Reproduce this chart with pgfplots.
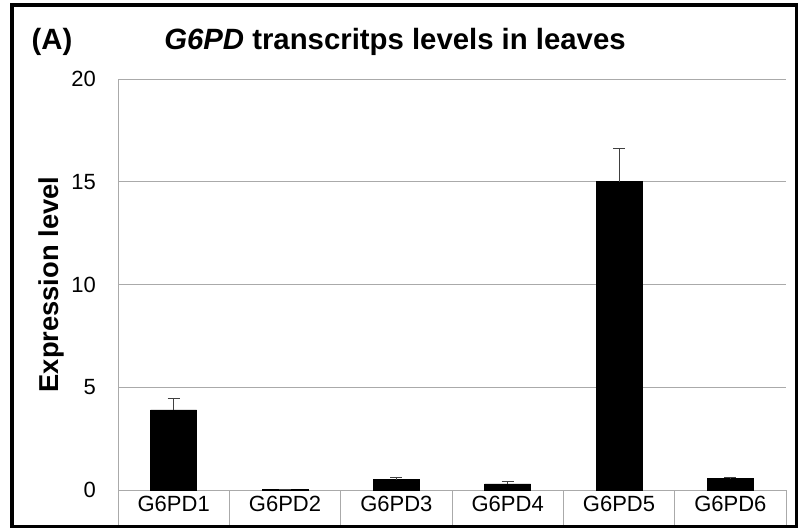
\documentclass[border=0pt]{standalone}
\usepackage{pgfplots}
\pgfplotsset{compat=1.18}
\usepackage{fontspec}
\setmainfont{Liberation Sans}
\definecolor{gridgray}{RGB}{170,170,170}
\begin{document}
\begin{tikzpicture}
\path[use as bounding box] (0,0) rectangle (599.25pt,396pt);
\begin{axis}[
  at={(88.5pt,28.5pt)}, anchor=south west,
  scale only axis, width=501pt, height=308.25pt,
  xmin=0.5, xmax=6.5, ymin=0, ymax=20,
  xtick={1,2,3,4,5,6},
  xticklabels={G6PD1,G6PD2,G6PD3,G6PD4,G6PD5,G6PD6},
  ytick={0,5,10,15,20},
  major tick length=0pt,
  extra x ticks={0.5,1.5,2.5,3.5,4.5,5.5,6.5},
  extra x tick labels={},
  extra x tick style={major tick length=27pt, tick align=outside, grid=none, tick style={gridgray, line width=0.6pt}},
  axis x line=bottom, axis y line=left,
  axis line style={gridgray, line width=0.7pt, -},
  ymajorgrids, grid style={gridgray, line width=0.7pt},
  /pgf/number format/assume math mode=true,
  tick label style={font=\fontsize{16.5}{18}\selectfont},
  yticklabel style={xshift=-13pt},
  xticklabel style={yshift=-1pt},
  ylabel={\textbf{Expression level}},
  ylabel style={font=\fontsize{20.5}{22}\selectfont, at={(axis description cs:-0.099,0.5)}, anchor=center, rotate=0},
  clip=false,
]
\addplot[ybar, bar width=34.5pt, fill=black, draw=black,
  error bars/.cd, y dir=plus, y explicit, error bar style={black!75, line width=0.7pt}, error mark options={rotate=90, mark size=4.5pt, black!75, line width=0.7pt}]
coordinates {
  (1,3.9) +- (0,0.55)
  (2,0.02) +- (0,0.02)
  (3,0.5) +- (0,0.1)
  (4,0.3) +- (0,0.12)
  (5,15.0) +- (0,1.6)
  (6,0.55) +- (0,0.06)
};
\end{axis}
\draw[black, line width=2.6pt] (9pt,1.125pt) rectangle (597.5pt,392.25pt);
\node[anchor=base, font=\fontsize{22}{24}\selectfont\bfseries] at (296.25pt,358.5pt) {\textit{G6PD} transcritps levels in leaves};
\node[anchor=base, font=\fontsize{22}{24}\selectfont\bfseries] at (39pt,358.5pt) {(A)};
\end{tikzpicture}
\end{document}
